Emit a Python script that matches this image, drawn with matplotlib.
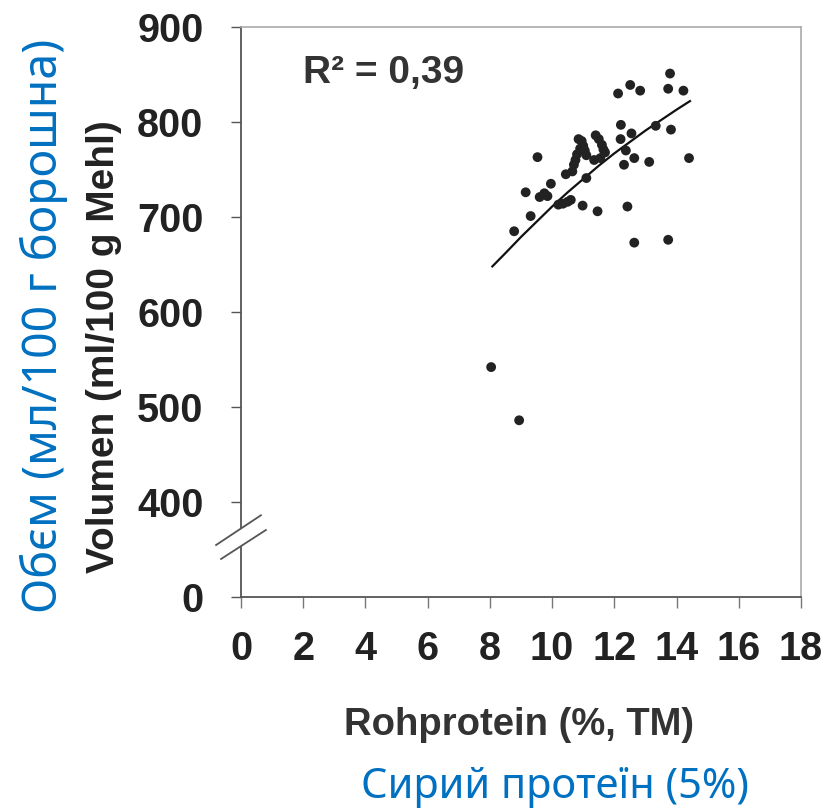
import numpy as np
import matplotlib.pyplot as plt
from matplotlib.patches import Polygon

# scatter points (Rohprotein %, Volumen ml/100 g)
protein = [8.04, 8.94, 8.78, 9.31, 9.15, 9.53, 9.60, 9.75, 9.85, 9.96,
           10.20, 10.35, 10.50, 10.60, 10.44, 10.98, 11.46,
           10.65, 10.70, 10.75, 10.80,
           10.85, 10.95, 11.00, 11.05, 11.10, 10.90, 11.10,
           11.40, 11.50, 11.60, 11.65, 11.70, 11.55, 11.35,
           12.12, 12.51, 12.83, 13.79, 13.73, 14.22,
           12.21, 12.55, 13.33, 13.82, 12.20, 12.37, 14.40,
           12.31, 12.64, 13.12, 12.42, 12.64, 13.73]
volume = [542, 486, 685, 701, 726, 763, 721, 725, 722, 735,
          713, 714, 716, 718, 745, 712, 706,
          748, 755, 760, 766,
          782, 780, 775, 770, 765, 772, 741,
          786, 782, 776, 771, 768, 762, 760,
          830, 839, 833, 851, 835, 833,
          797, 788, 796, 792, 782, 770, 762,
          755, 762, 758, 711, 673, 676]

# trend curve as drawn in the scan
trend_x = [8.08, 8.5, 9.0, 9.5, 10.0, 10.5, 11.0, 11.5, 12.0, 12.5, 13.0, 13.5, 14.0, 14.43]
trend_y = [648, 662, 679, 695, 711, 726, 740, 754, 767, 779, 791, 802, 813, 822]

x_ticks = [0, 2, 4, 6, 8, 10, 12, 14, 16, 18]
y_ticks = [300, 400, 500, 600, 700, 800, 900]   # 300 is where the broken axis shows "0"
y_labels = ['0', '400', '500', '600', '700', '800', '900']

BLUE = '#0070C0'
INK = '#222222'

fig = plt.figure(figsize=(8.27, 8.11), dpi=100)
ax = fig.add_axes([0.2914, 0.2639, 0.6772, 0.7028])

ax.scatter(protein, volume, s=50, color=INK, edgecolors='none', zorder=3)
ax.plot(trend_x, trend_y, color='#111111', lw=1.6, zorder=2)

ax.set_xlim(0, 18)
ax.set_ylim(300, 900)
ax.set_xticks(x_ticks)
ax.set_yticks(y_ticks)
ax.set_yticklabels(y_labels)

for lab in ax.get_xticklabels() + ax.get_yticklabels():
    lab.set_fontfamily('Liberation Sans')
    lab.set_fontweight('bold')
    lab.set_fontsize(28.5)
    lab.set_color(INK)

ax.tick_params(axis='x', direction='out', length=8, width=1, color='#777777', pad=16)
ax.tick_params(axis='y', direction='out', length=7, width=1, color='#555555', pad=20)

for side in ['left', 'bottom']:
    ax.spines[side].set_color('#555555')
    ax.spines[side].set_linewidth(1.3)
for side in ['top', 'right']:
    ax.spines[side].set_color('#aaaaaa')
    ax.spines[side].set_linewidth(1.2)

# axis break marks on the y axis
gap = Polygon([[-0.80, 354.7], [0.64, 386.0], [0.80, 370.5], [-0.64, 340.0]],
              closed=True, facecolor='white', edgecolor='none', clip_on=False, zorder=4)
ax.add_patch(gap)
ax.plot([-0.80, 0.64], [354.7, 386.0], color='#555555', lw=1.3, clip_on=False, zorder=5)
ax.plot([-0.64, 0.80], [340.0, 370.5], color='#555555', lw=1.3, clip_on=False, zorder=5)

ax.text(2.0, 852, 'R² = 0,39', fontfamily='Liberation Sans', fontweight='bold',
        fontsize=28, color='#333333', va='center', ha='left')

# original (German) axis titles
fig.text(104 / 827, 1 - 347 / 811, 'Volumen (ml/100 g Mehl)', rotation=90,
         fontfamily='Liberation Sans', fontweight='bold', fontsize=28,
         color='#222222', ha='center', va='center')
fig.text(519 / 827, 1 - 725 / 811, 'Rohprotein (%, TM)',
         fontfamily='Liberation Sans', fontweight='bold', fontsize=27.5,
         color='#333333', ha='center', va='center')

# Ukrainian overlay labels
fig.text(44 / 827, 1 - 326 / 811, 'Обєм (мл/100 г борошна)', rotation=90,
         fontfamily='Noto Sans', fontsize=33.5, color=BLUE, ha='center', va='center')
fig.text(555 / 827, 1 - 787 / 811, 'Сирий протеїн (5%)',
         fontfamily='Noto Sans', fontsize=30, color=BLUE, ha='center', va='center')

fig.savefig('out.png', dpi=100)
